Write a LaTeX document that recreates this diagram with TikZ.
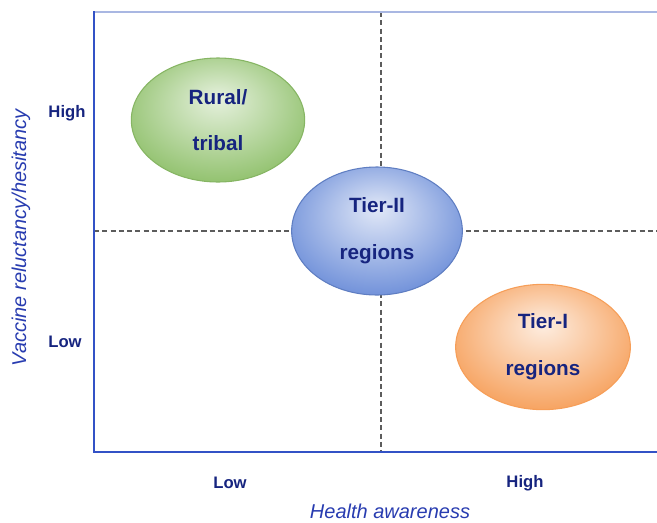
\documentclass[tikz,border=0pt]{standalone}
\usepackage{fontspec}
\setmainfont{Liberation Sans}
\usetikzlibrary{shapes.geometric}
\definecolor{qnavy}{HTML}{16247F}
\definecolor{qtitle}{HTML}{283CB0}
\definecolor{qaxis}{HTML}{3352C6}
\definecolor{qrule}{HTML}{A9B7E2}
\definecolor{qgrid}{HTML}{5C5C5C}
\definecolor{qgreen}{HTML}{8DBF68}
\definecolor{qblue}{HTML}{6A8CD8}
\definecolor{qorange}{HTML}{F69E58}
\colorlet{qinner}{white}
\colorlet{qouter}{gray}
% glossy fill, lit a little above the middle
\pgfdeclareradialshading[qinner,qouter]{glossy}{\pgfpoint{0bp}{9bp}}{%
  color(0bp)=(qinner); color(31bp)=(qouter); color(50bp)=(qouter)}
\tikzset{
  region/.style={ellipse, minimum width=129pt, minimum height=94pt, line width=0.8pt,
    align=center, text=qnavy, inner sep=0pt,
    font=\fontsize{15.5}{35}\selectfont\bfseries},
  ruralreg/.style={region, draw=qgreen!95!black,
    /utils/exec={\colorlet{qinner}{qgreen!22}\colorlet{qouter}{qgreen}}, shading=glossy},
  midreg/.style={region, draw=qblue!90!black,
    /utils/exec={\colorlet{qinner}{qblue!20}\colorlet{qouter}{qblue}}, shading=glossy},
  toptier/.style={region, draw=qorange,
    /utils/exec={\colorlet{qinner}{qorange!18}\colorlet{qouter}{qorange}}, shading=glossy},
  ticklab/.style={text=qnavy, font=\fontsize{12.5}{14}\selectfont\bfseries},
  axtitle/.style={text=qtitle, font=\fontsize{15}{17}\selectfont\itshape},
  quadrant/.style={draw=qgrid, line width=1.1pt, dash pattern=on 3.8pt off 2.4pt},
}

\begin{document}
\begin{tikzpicture}[x=0.75pt, y=-0.75pt]
\useasboundingbox (0,0) rectangle (657,522);

% frame corners
\coordinate (O) at (94,452);
\coordinate (T) at (94,12);
\coordinate (R) at (657,452);
\coordinate (TR) at (657,12);
\coordinate (vtop) at (381,12);
\coordinate (vbot) at (381,452);
\coordinate (hleft) at (94,231);
\coordinate (hright) at (657,231);

% quadrant split
\draw[quadrant] (vtop) -- (vbot);
\draw[quadrant] (hleft) -- (hright);

% axes
\draw[qrule, line width=1.3pt] (T) -- (TR);
\draw[qaxis, line width=1.6pt, line cap=rect] (T) -- (O) -- (R);

% regions
\node[ruralreg, minimum width=130pt, minimum height=93pt] (rural) at (218,120) {Rural/\\tribal};
\node[midreg, minimum width=128pt, minimum height=96pt] (tier2) at (377,231) {Tier-II\\regions};
\node[toptier, minimum width=131pt, minimum height=94pt] (tier1) at (543,347) {Tier-I\\regions};

% tick labels
\node[ticklab] (yhigh) at (67,113) {High};
\node[ticklab] (ylow) at (65,342) {Low};
\node[ticklab] (xlow) at (230,483) {Low};
\node[ticklab] (xhigh) at (525,483) {High};

% axis titles
\node[axtitle] (xtitle) at (390,511) {Health awareness};
\node[axtitle, rotate=90] (ytitle) at (21,238) {Vaccine reluctancy/hesitancy};
\end{tikzpicture}
\end{document}
